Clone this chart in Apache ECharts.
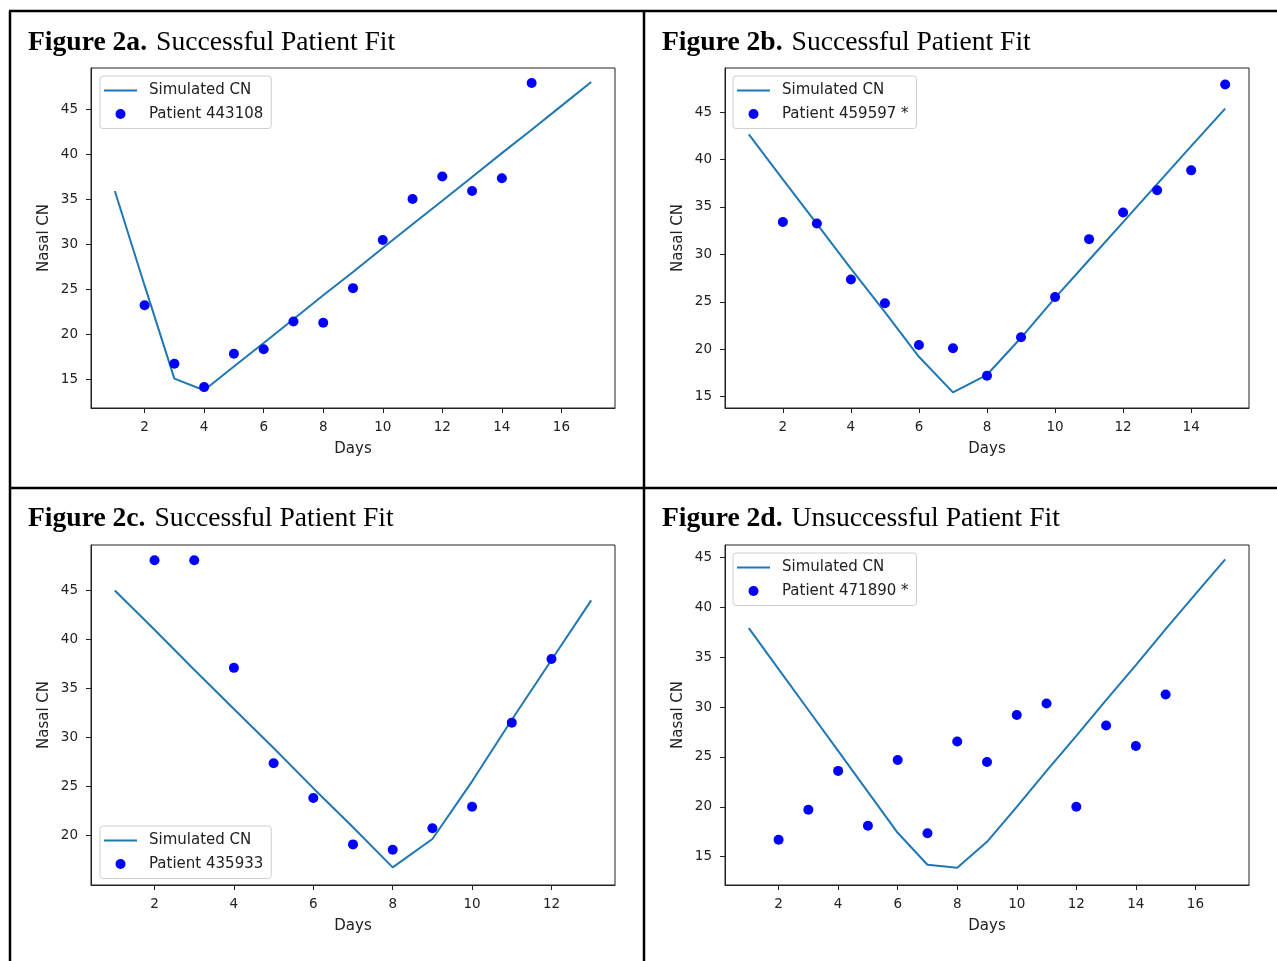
<!DOCTYPE html>
<html>
<head>
<meta charset="utf-8">
<title>Figure 2 - Patient Fits</title>
<script src="https://cdn.jsdelivr.net/npm/echarts@6/dist/echarts.min.js"></script>
<style>
  html, body { margin: 0; padding: 0; background: #fff; }
  #main { width: 1277px; height: 961px; }
</style>
</head>
<body>
<div id="main"></div>
<script>
// ---- data ----
// 2a
const simDaysA = [1, 2, 3, 4, 5, 6, 7, 8, 9, 10, 11, 12, 13, 14, 15, 16, 17];
const simA = [35.9, 25.4, 15.05, 13.75, 16.4, 19.0, 21.65, 24.3, 26.9, 29.55, 32.2, 34.8, 37.45, 40.1, 42.7, 45.35, 48.0];
const patDaysA = [2, 3, 4, 5, 6, 7, 8, 9, 10, 11, 12, 13, 14, 15];
const patA = [23.2, 16.7, 14.1, 17.8, 18.3, 21.4, 21.25, 25.1, 30.45, 35.0, 37.5, 35.9, 37.3, 47.9];
// 2b
const simDaysB = [1, 2, 3, 4, 5, 6, 7, 8, 9, 10, 11, 12, 13, 14, 15];
const simB = [42.65, 37.9, 33.2, 28.5, 23.9, 19.2, 15.45, 17.3, 21.2, 25.4, 29.4, 33.4, 37.4, 41.4, 45.35];
const patDaysB = [2, 3, 4, 5, 6, 7, 8, 9, 10, 11, 12, 13, 14, 15];
const patB = [33.4, 33.25, 27.35, 24.85, 20.45, 20.1, 17.2, 21.25, 25.5, 31.6, 34.4, 36.75, 38.85, 47.9];
// 2c
const simDaysC = [1, 2, 3, 4, 5, 6, 7, 8, 9, 10, 11, 12, 13];
const simC = [45.0, 41.0, 36.9, 32.9, 28.9, 24.8, 20.8, 16.7, 19.6, 25.5, 31.8, 37.9, 44.0];
const patDaysC = [2, 3, 4, 5, 6, 7, 8, 9, 10, 11, 12];
const patC = [48.1, 48.1, 37.1, 27.35, 23.8, 19.05, 18.5, 20.7, 22.9, 31.5, 38.0];
// 2d
const simDaysD = [1, 2, 3, 4, 5, 6, 7, 8, 9, 10, 11, 12, 13, 14, 15, 16, 17];
const simD = [37.9, 33.8, 29.7, 25.6, 21.5, 17.4, 14.2, 13.9, 16.5, 20.0, 23.6, 27.1, 30.7, 34.2, 37.8, 41.3, 44.8];
const patDaysD = [2, 3, 4, 5, 6, 7, 8, 9, 10, 11, 12, 13, 14, 15];
const patD = [16.7, 19.7, 23.6, 18.1, 24.7, 17.35, 26.55, 24.5, 29.2, 30.35, 20.0, 28.15, 26.1, 31.25];

const patientNames = ["Patient 443108", "Patient 459597 *", "Patient 435933", "Patient 471890 *"];
const titlesBold = ["Figure 2a.", "Figure 2b.", "Figure 2c.", "Figure 2d."];
const titlesRest = ["Successful Patient Fit", "Successful Patient Fit", "Successful Patient Fit", "Unsuccessful Patient Fit"];

// tick labels
const xTicksA = [2, 4, 6, 8, 10, 12, 14, 16];
const xTicksB = [2, 4, 6, 8, 10, 12, 14];
const xTicksC = [2, 4, 6, 8, 10, 12];
const xTicksD = [2, 4, 6, 8, 10, 12, 14, 16];
const yTicksA = [15, 20, 25, 30, 35, 40, 45];
const yTicksB = [15, 20, 25, 30, 35, 40, 45];
const yTicksC = [20, 25, 30, 35, 40, 45];
const yTicksD = [15, 20, 25, 30, 35, 40, 45];

// ---- layout ----
const panels = [
  { sim: [simDaysA, simA], pat: [patDaysA, patA], xt: xTicksA, yt: yTicksA,
    x: [0.2, 17.8], y: [11.78, 49.56], left: 91, top: 68, lgLeft: 100, lgTop: 76, titleLeft: 28, titleTop: 29 },
  { sim: [simDaysB, simB], pat: [patDaysB, patB], xt: xTicksB, yt: yTicksB,
    x: [0.3, 15.7], y: [13.8, 49.64], left: 725, top: 68, lgLeft: 733, lgTop: 76, titleLeft: 662, titleTop: 29 },
  { sim: [simDaysC, simC], pat: [patDaysC, patC], xt: xTicksC, yt: yTicksC,
    x: [0.4, 13.6], y: [14.9, 49.66], left: 91, top: 545, lgLeft: 100, lgTop: 826, titleLeft: 28, titleTop: 505 },
  { sim: [simDaysD, simD], pat: [patDaysD, patD], xt: xTicksD, yt: yTicksD,
    x: [0.2, 17.8], y: [12.17, 46.23], left: 725, top: 545, lgLeft: 733, lgTop: 553, titleLeft: 662, titleTop: 505 },
];

const ink = "#222";
const sans = "DejaVu Sans";
const serif = "Liberation Serif";
const lineIcon = "path://M0,0H33V2H0Z"; // plain line swatch for the legend

const zip = (xs, ys) => xs.map((d, i) => [d, ys[i]]);

const option = {
  animation: false,
  title: [],
  legend: [],
  grid: [],
  xAxis: [],
  yAxis: [],
  series: [],
  graphic: [
    // frame lines of the figure table
    { type: "line", shape: { x1: 9, y1: 11, x2: 1277, y2: 11 }, style: { stroke: "#000", lineWidth: 2.5 } },
    { type: "line", shape: { x1: 10, y1: 11, x2: 10, y2: 961 }, style: { stroke: "#000", lineWidth: 2.5 } },
    { type: "line", shape: { x1: 644, y1: 11, x2: 644, y2: 961 }, style: { stroke: "#000", lineWidth: 2.5 } },
    { type: "line", shape: { x1: 10, y1: 488, x2: 1277, y2: 488 }, style: { stroke: "#000", lineWidth: 2.5 } },
  ],
};

panels.forEach((p, i) => {
  option.title.push({
    text: "{b|" + titlesBold[i] + "}{s| }" + titlesRest[i],
    left: p.titleLeft,
    top: p.titleTop,
    padding: 0,
    textStyle: {
      fontFamily: serif,
      fontSize: 27.6,
      fontWeight: "normal",
      color: "#000",
      rich: {
        b: { fontFamily: serif, fontSize: 27.6, fontWeight: "bold", color: "#000" },
        s: { fontFamily: serif, fontSize: 27.6, width: 9 },
      },
    },
  });

  option.grid.push({
    left: p.left,
    top: p.top,
    width: 524,
    height: 340,
    show: true,
    borderColor: ink,
    borderWidth: 1,
    backgroundColor: "#fff",
  });

  option.xAxis.push({
    type: "value",
    gridIndex: i,
    min: p.x[0],
    max: p.x[1],
    name: "Days",
    nameLocation: "middle",
    nameGap: 34,
    nameTextStyle: { fontFamily: sans, fontSize: 15, color: ink },
    axisLine: { show: true, lineStyle: { color: ink, width: 1 } },
    axisTick: { show: true, length: 5, lineStyle: { color: ink }, customValues: p.xt },
    axisLabel: { fontFamily: sans, fontSize: 13.5, color: ink, margin: 12, customValues: p.xt },
    splitLine: { show: false },
  });

  option.yAxis.push({
    type: "value",
    gridIndex: i,
    min: p.y[0],
    max: p.y[1],
    name: "Nasal CN",
    nameLocation: "middle",
    nameGap: 39,
    nameTextStyle: { fontFamily: sans, fontSize: 15, color: ink },
    axisLine: { show: true, lineStyle: { color: ink, width: 1 } },
    axisTick: { show: true, length: 5, lineStyle: { color: ink }, customValues: p.yt },
    axisLabel: { fontFamily: sans, fontSize: 13.5, color: ink, margin: 13, customValues: p.yt },
    splitLine: { show: false },
  });

  option.series.push({
    name: "Simulated CN",
    type: "line",
    xAxisIndex: i,
    yAxisIndex: i,
    data: zip(p.sim[0], p.sim[1]),
    symbol: "none",
    lineStyle: { color: "#1f77b4", width: 2 },
    itemStyle: { color: "#1f77b4" },
    z: 3,
  });

  option.series.push({
    name: patientNames[i],
    type: "scatter",
    xAxisIndex: i,
    yAxisIndex: i,
    data: zip(p.pat[0], p.pat[1]),
    symbol: "circle",
    symbolSize: 10,
    itemStyle: { color: "#0000ff", opacity: 1 },
    z: 4,
  });

  option.legend.push({
    orient: "vertical",
    left: p.lgLeft,
    top: p.lgTop,
    data: [
      { name: "Simulated CN", icon: lineIcon, itemStyle: { color: "#1f77b4" } },
      { name: patientNames[i], icon: "circle" },
    ],
    selectedMode: false,
    itemWidth: 33,
    itemHeight: 10,
    itemGap: 8.5,
    padding: [7, 8, 7, 4],
    borderColor: "#d0d0d0",
    borderWidth: 1,
    borderRadius: 3,
    backgroundColor: "rgba(255,255,255,0.85)",
    textStyle: { fontFamily: sans, fontSize: 15, color: ink, padding: [0, 0, 0, 7] },
    z: 10,
  });
});

var chartDom = document.getElementById("main");
var myChart = echarts.init(chartDom, null, { renderer: "canvas" });
myChart.setOption(option);
</script>
</body>
</html>
